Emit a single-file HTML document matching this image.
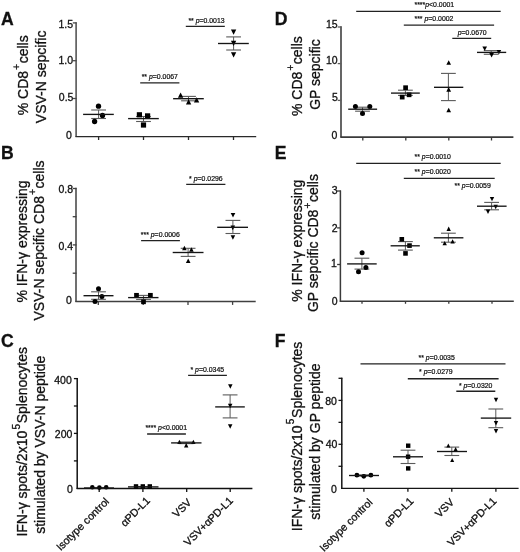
<!DOCTYPE html>
<html><head><meta charset="utf-8"><style>
html,body{margin:0;padding:0;background:#fff;}
body{width:520px;height:552px;overflow:hidden;}
svg{display:block;font-family:"Liberation Sans", sans-serif;will-change:transform;}
text{fill:#111;stroke:#111;stroke-width:0.3px;}
.sm{stroke-width:0.22px;}
</style></head><body>
<svg width="520" height="552" viewBox="0 0 520 552">
<rect width="520" height="552" fill="#fff"/>
<g fill="#000">
<text x="0.90" y="25.00" font-size="17.6" text-anchor="start" font-weight="bold">A</text>
<text transform="translate(27.60,75.3) rotate(-90)" font-size="14" text-anchor="middle">% CD8<tspan font-size="10" dx="1.2" dy="-7.5">+</tspan><tspan dx="0.5" dy="7.5">cells</tspan></text>
<text transform="translate(46.30,76.9) rotate(-90)" font-size="14" text-anchor="middle">VSV-N sepcific</text>
<line x1="76.10" y1="22.20" x2="76.10" y2="137.00" stroke="#4a4a4a" stroke-width="1.5"/>
<line x1="72.80" y1="22.90" x2="76.60" y2="22.90" stroke="#4a4a4a" stroke-width="1.3"/>
<line x1="72.80" y1="60.70" x2="76.60" y2="60.70" stroke="#4a4a4a" stroke-width="1.3"/>
<line x1="72.80" y1="98.50" x2="76.60" y2="98.50" stroke="#4a4a4a" stroke-width="1.3"/>
<text x="73.05" y="27.90" font-size="10.5" text-anchor="end">1.5</text>
<text x="73.05" y="63.75" font-size="10.5" text-anchor="end">1.0</text>
<text x="73.45" y="101.35" font-size="10.5" text-anchor="end">0.5</text>
<text x="71.75" y="138.90" font-size="10.5" text-anchor="end">0</text>
<line x1="75.50" y1="136.60" x2="256.20" y2="136.60" stroke="#2a2a2a" stroke-width="1.4"/>
<line x1="98.60" y1="136.60" x2="98.60" y2="140.00" stroke="#2a2a2a" stroke-width="1.3"/>
<line x1="143.50" y1="136.60" x2="143.50" y2="140.00" stroke="#2a2a2a" stroke-width="1.3"/>
<line x1="188.50" y1="136.60" x2="188.50" y2="140.00" stroke="#2a2a2a" stroke-width="1.3"/>
<line x1="233.50" y1="136.60" x2="233.50" y2="140.00" stroke="#2a2a2a" stroke-width="1.3"/>
<line x1="98.60" y1="110.00" x2="98.60" y2="118.50" stroke="#5a5a5a" stroke-width="1.0"/>
<line x1="91.20" y1="110.00" x2="106.00" y2="110.00" stroke="#5a5a5a" stroke-width="1.1"/>
<line x1="91.20" y1="118.50" x2="106.00" y2="118.50" stroke="#5a5a5a" stroke-width="1.1"/>
<circle cx="98.50" cy="106.20" r="2.65"/>
<circle cx="102.50" cy="115.40" r="2.65"/>
<circle cx="94.60" cy="121.50" r="2.65"/>
<line x1="83.10" y1="114.40" x2="113.80" y2="114.40" stroke="#151515" stroke-width="1.35"/>
<line x1="143.50" y1="116.50" x2="143.50" y2="121.50" stroke="#5a5a5a" stroke-width="1.0"/>
<line x1="136.10" y1="116.50" x2="150.90" y2="116.50" stroke="#5a5a5a" stroke-width="1.1"/>
<line x1="136.10" y1="121.50" x2="150.90" y2="121.50" stroke="#5a5a5a" stroke-width="1.1"/>
<rect x="136.80" y="112.20" width="5.20" height="5.20"/>
<rect x="145.00" y="113.30" width="5.20" height="5.20"/>
<rect x="140.90" y="122.40" width="5.20" height="5.20"/>
<line x1="128.10" y1="118.60" x2="158.80" y2="118.60" stroke="#151515" stroke-width="1.35"/>
<line x1="188.50" y1="96.40" x2="188.50" y2="100.80" stroke="#5a5a5a" stroke-width="1.0"/>
<line x1="181.10" y1="96.40" x2="195.90" y2="96.40" stroke="#5a5a5a" stroke-width="1.1"/>
<line x1="181.10" y1="100.80" x2="195.90" y2="100.80" stroke="#5a5a5a" stroke-width="1.1"/>
<path d="M180.60 92.45L183.25 97.75L177.95 97.75Z"/>
<path d="M188.60 99.15L191.25 104.45L185.95 104.45Z"/>
<path d="M196.60 97.25L199.25 102.55L193.95 102.55Z"/>
<line x1="173.10" y1="98.70" x2="203.80" y2="98.70" stroke="#151515" stroke-width="1.35"/>
<line x1="233.60" y1="36.90" x2="233.60" y2="50.00" stroke="#5a5a5a" stroke-width="1.0"/>
<line x1="226.20" y1="36.90" x2="241.00" y2="36.90" stroke="#5a5a5a" stroke-width="1.1"/>
<line x1="226.20" y1="50.00" x2="241.00" y2="50.00" stroke="#5a5a5a" stroke-width="1.1"/>
<path d="M233.60 34.75L236.25 29.45L230.95 29.45Z"/>
<path d="M233.60 46.05L236.25 40.75L230.95 40.75Z"/>
<path d="M233.60 57.45L236.25 52.15L230.95 52.15Z"/>
<line x1="218.00" y1="43.50" x2="248.80" y2="43.50" stroke="#151515" stroke-width="1.35"/>
<line x1="185.80" y1="26.40" x2="224.80" y2="26.40" stroke="#222" stroke-width="1.35"/>
<text class="sm" x="188.40" y="23.20" font-size="6.9">** <tspan font-style="italic">p</tspan>=0.0013</text>
<line x1="140.20" y1="82.80" x2="179.40" y2="82.80" stroke="#222" stroke-width="1.35"/>
<text class="sm" x="141.70" y="78.70" font-size="6.9">** <tspan font-style="italic">p</tspan>=0.0067</text>
<text x="0.90" y="158.60" font-size="17.6" text-anchor="start" font-weight="bold">B</text>
<text transform="translate(27.30,241.45) rotate(-90)" font-size="14" text-anchor="middle">% IFN-&#947; expressing</text>
<text transform="translate(43.50,240.45) rotate(-90)" font-size="14" text-anchor="middle">VSV-N sepcific CD8<tspan font-size="10" dx="1.2" dy="-7.5">+</tspan><tspan dx="0.5" dy="7.5">cells</tspan></text>
<line x1="76.00" y1="187.80" x2="76.00" y2="302.10" stroke="#404040" stroke-width="1.5"/>
<line x1="72.70" y1="188.50" x2="76.50" y2="188.50" stroke="#404040" stroke-width="1.3"/>
<line x1="72.70" y1="216.70" x2="76.50" y2="216.70" stroke="#404040" stroke-width="1.3"/>
<line x1="72.70" y1="244.90" x2="76.50" y2="244.90" stroke="#404040" stroke-width="1.3"/>
<line x1="72.70" y1="273.20" x2="76.50" y2="273.20" stroke="#404040" stroke-width="1.3"/>
<text x="73.05" y="192.75" font-size="10.5" text-anchor="end">0.8</text>
<text x="73.05" y="249.85" font-size="10.5" text-anchor="end">0.4</text>
<text x="71.75" y="303.85" font-size="10.5" text-anchor="end">0</text>
<line x1="75.40" y1="301.50" x2="255.70" y2="301.50" stroke="#404040" stroke-width="1.4"/>
<line x1="98.30" y1="301.50" x2="98.30" y2="304.90" stroke="#404040" stroke-width="1.3"/>
<line x1="143.20" y1="301.50" x2="143.20" y2="304.90" stroke="#404040" stroke-width="1.3"/>
<line x1="188.00" y1="301.50" x2="188.00" y2="304.90" stroke="#404040" stroke-width="1.3"/>
<line x1="232.60" y1="301.50" x2="232.60" y2="304.90" stroke="#404040" stroke-width="1.3"/>
<line x1="98.50" y1="291.80" x2="98.50" y2="299.30" stroke="#5a5a5a" stroke-width="1.0"/>
<line x1="91.10" y1="291.80" x2="105.90" y2="291.80" stroke="#5a5a5a" stroke-width="1.1"/>
<line x1="91.10" y1="299.30" x2="105.90" y2="299.30" stroke="#5a5a5a" stroke-width="1.1"/>
<circle cx="98.50" cy="288.80" r="2.50"/>
<circle cx="101.90" cy="296.60" r="2.50"/>
<circle cx="95.00" cy="301.40" r="2.50"/>
<line x1="83.50" y1="295.70" x2="113.50" y2="295.70" stroke="#151515" stroke-width="1.35"/>
<line x1="143.50" y1="295.40" x2="143.50" y2="299.40" stroke="#5a5a5a" stroke-width="1.0"/>
<line x1="136.10" y1="295.40" x2="150.90" y2="295.40" stroke="#5a5a5a" stroke-width="1.1"/>
<line x1="136.10" y1="299.40" x2="150.90" y2="299.40" stroke="#5a5a5a" stroke-width="1.1"/>
<rect x="134.15" y="292.95" width="4.70" height="4.70"/>
<rect x="148.05" y="292.95" width="4.70" height="4.70"/>
<rect x="141.15" y="299.45" width="4.70" height="4.70"/>
<line x1="128.10" y1="297.60" x2="158.50" y2="297.60" stroke="#151515" stroke-width="1.35"/>
<line x1="188.10" y1="248.30" x2="188.10" y2="256.40" stroke="#5a5a5a" stroke-width="1.0"/>
<line x1="180.70" y1="248.30" x2="195.50" y2="248.30" stroke="#5a5a5a" stroke-width="1.1"/>
<line x1="180.70" y1="256.40" x2="195.50" y2="256.40" stroke="#5a5a5a" stroke-width="1.1"/>
<path d="M184.40 245.70L186.70 250.30L182.10 250.30Z"/>
<path d="M191.40 247.20L193.70 251.80L189.10 251.80Z"/>
<path d="M188.20 258.50L190.50 263.10L185.90 263.10Z"/>
<line x1="172.70" y1="252.50" x2="203.50" y2="252.50" stroke="#151515" stroke-width="1.35"/>
<line x1="232.90" y1="220.40" x2="232.90" y2="233.50" stroke="#5a5a5a" stroke-width="1.0"/>
<line x1="225.50" y1="220.40" x2="240.30" y2="220.40" stroke="#5a5a5a" stroke-width="1.1"/>
<line x1="225.50" y1="233.50" x2="240.30" y2="233.50" stroke="#5a5a5a" stroke-width="1.1"/>
<path d="M233.00 217.50L235.30 212.90L230.70 212.90Z"/>
<path d="M232.80 230.20L235.10 225.60L230.50 225.60Z"/>
<path d="M232.90 239.80L235.20 235.20L230.60 235.20Z"/>
<line x1="217.20" y1="227.30" x2="248.00" y2="227.30" stroke="#151515" stroke-width="1.35"/>
<line x1="186.20" y1="184.30" x2="225.40" y2="184.30" stroke="#222" stroke-width="1.35"/>
<text class="sm" x="189.10" y="180.70" font-size="6.9">* <tspan font-style="italic">p</tspan>=0.0296</text>
<line x1="141.10" y1="240.60" x2="179.90" y2="240.60" stroke="#222" stroke-width="1.35"/>
<text class="sm" x="140.80" y="237.00" font-size="6.9">*** <tspan font-style="italic">p</tspan>=0.0006</text>
<text x="0.90" y="346.60" font-size="17.6" text-anchor="start" font-weight="bold">C</text>
<text transform="translate(27.20,441.8) rotate(-90)" font-size="14" text-anchor="middle">IFN-&#947; spots/2x10<tspan font-size="10" dx="1.2" dy="-7.6">5</tspan><tspan dx="0.7" dy="7.6">Splenocytes</tspan></text>
<text transform="translate(45.40,444.75) rotate(-90)" font-size="14" text-anchor="middle">stimulated by VSV-N peptide</text>
<line x1="77.20" y1="378.10" x2="77.20" y2="489.10" stroke="#111" stroke-width="1.5"/>
<line x1="73.90" y1="378.60" x2="77.70" y2="378.60" stroke="#111" stroke-width="1.3"/>
<line x1="73.90" y1="406.00" x2="77.70" y2="406.00" stroke="#111" stroke-width="1.3"/>
<line x1="73.90" y1="433.40" x2="77.70" y2="433.40" stroke="#111" stroke-width="1.3"/>
<line x1="73.90" y1="460.90" x2="77.70" y2="460.90" stroke="#111" stroke-width="1.3"/>
<text x="71.75" y="383.65" font-size="10.5" text-anchor="end">400</text>
<text x="72.35" y="438.10" font-size="10.5" text-anchor="end">200</text>
<text x="72.85" y="492.95" font-size="10.5" text-anchor="end">0</text>
<line x1="76.60" y1="488.50" x2="252.40" y2="488.50" stroke="#111" stroke-width="1.4"/>
<line x1="99.20" y1="488.50" x2="99.20" y2="491.90" stroke="#111" stroke-width="1.3"/>
<line x1="142.90" y1="488.50" x2="142.90" y2="491.90" stroke="#111" stroke-width="1.3"/>
<line x1="186.70" y1="488.50" x2="186.70" y2="491.90" stroke="#111" stroke-width="1.3"/>
<line x1="230.20" y1="488.50" x2="230.20" y2="491.90" stroke="#111" stroke-width="1.3"/>
<line x1="99.30" y1="487.50" x2="99.30" y2="488.00" stroke="#5a5a5a" stroke-width="1.0"/>
<line x1="91.90" y1="487.50" x2="106.70" y2="487.50" stroke="#5a5a5a" stroke-width="1.1"/>
<line x1="91.90" y1="488.00" x2="106.70" y2="488.00" stroke="#5a5a5a" stroke-width="1.1"/>
<circle cx="92.30" cy="487.30" r="2.30"/>
<circle cx="99.40" cy="487.60" r="2.30"/>
<circle cx="106.20" cy="487.30" r="2.30"/>
<line x1="84.00" y1="488.00" x2="114.00" y2="488.00" stroke="#151515" stroke-width="1.35"/>
<line x1="142.90" y1="486.50" x2="142.90" y2="487.00" stroke="#5a5a5a" stroke-width="1.0"/>
<line x1="135.50" y1="486.50" x2="150.30" y2="486.50" stroke="#5a5a5a" stroke-width="1.1"/>
<line x1="135.50" y1="487.00" x2="150.30" y2="487.00" stroke="#5a5a5a" stroke-width="1.1"/>
<rect x="133.80" y="484.20" width="4.40" height="4.40"/>
<rect x="140.60" y="484.20" width="4.40" height="4.40"/>
<rect x="147.60" y="484.20" width="4.40" height="4.40"/>
<line x1="128.00" y1="486.90" x2="158.50" y2="486.90" stroke="#151515" stroke-width="1.35"/>
<line x1="186.10" y1="442.00" x2="186.10" y2="443.60" stroke="#5a5a5a" stroke-width="1.0"/>
<line x1="178.70" y1="442.00" x2="193.50" y2="442.00" stroke="#5a5a5a" stroke-width="1.1"/>
<line x1="178.70" y1="443.60" x2="193.50" y2="443.60" stroke="#5a5a5a" stroke-width="1.1"/>
<path d="M179.40 439.70L181.60 444.10L177.20 444.10Z"/>
<path d="M193.40 439.70L195.60 444.10L191.20 444.10Z"/>
<path d="M186.20 443.10L188.40 447.50L184.00 447.50Z"/>
<line x1="171.10" y1="442.90" x2="201.50" y2="442.90" stroke="#151515" stroke-width="1.35"/>
<line x1="230.10" y1="394.90" x2="230.10" y2="417.90" stroke="#5a5a5a" stroke-width="1.0"/>
<line x1="222.70" y1="394.90" x2="237.50" y2="394.90" stroke="#5a5a5a" stroke-width="1.1"/>
<line x1="222.70" y1="417.90" x2="237.50" y2="417.90" stroke="#5a5a5a" stroke-width="1.1"/>
<path d="M230.30 388.75L232.55 384.25L228.05 384.25Z"/>
<path d="M230.20 408.15L232.45 403.65L227.95 403.65Z"/>
<path d="M230.20 428.75L232.45 424.25L227.95 424.25Z"/>
<line x1="215.20" y1="406.90" x2="244.80" y2="406.90" stroke="#151515" stroke-width="1.35"/>
<line x1="188.10" y1="375.40" x2="226.90" y2="375.40" stroke="#222" stroke-width="1.35"/>
<text class="sm" x="190.50" y="372.30" font-size="6.9">* <tspan font-style="italic">p</tspan>=0.0345</text>
<line x1="147.10" y1="434.00" x2="185.90" y2="434.00" stroke="#222" stroke-width="1.35"/>
<text class="sm" x="145.40" y="430.30" font-size="6.9">**** <tspan font-style="italic">p</tspan>&lt;0.0001</text>
<text transform="translate(109.80,502.20) rotate(-45)" font-size="10.7" text-anchor="end">Isotype control</text>
<text transform="translate(150.70,501.40) rotate(-45)" font-size="10.7" text-anchor="end">&#945;PD-L1</text>
<text transform="translate(192.00,503.10) rotate(-45)" font-size="10.7" text-anchor="end">VSV</text>
<text transform="translate(233.70,501.30) rotate(-45)" font-size="10.7" text-anchor="end">VSV+&#945;PD-L1</text>
<text x="274.70" y="25.00" font-size="17.6" text-anchor="start" font-weight="bold">D</text>
<text transform="translate(301.70,76.1) rotate(-90)" font-size="14" text-anchor="middle">% CD8<tspan font-size="10" dx="1.2" dy="-7.5">+</tspan><tspan dx="0.5" dy="7.5">cells</tspan></text>
<text transform="translate(320.10,74.55) rotate(-90)" font-size="14" text-anchor="middle">GP sepcific</text>
<line x1="341.00" y1="26.30" x2="341.00" y2="137.50" stroke="#5e5e5e" stroke-width="1.9"/>
<line x1="337.70" y1="27.00" x2="341.50" y2="27.00" stroke="#5e5e5e" stroke-width="1.3"/>
<line x1="337.70" y1="63.60" x2="341.50" y2="63.60" stroke="#5e5e5e" stroke-width="1.3"/>
<line x1="337.70" y1="100.40" x2="341.50" y2="100.40" stroke="#5e5e5e" stroke-width="1.3"/>
<text x="337.65" y="27.95" font-size="10.5" text-anchor="end">15</text>
<text x="337.65" y="63.65" font-size="10.5" text-anchor="end">10</text>
<text x="337.95" y="101.15" font-size="10.5" text-anchor="end">5</text>
<text x="337.45" y="138.85" font-size="10.5" text-anchor="end">0</text>
<line x1="340.40" y1="137.10" x2="513.40" y2="137.10" stroke="#3a3a3a" stroke-width="1.6"/>
<line x1="362.80" y1="137.10" x2="362.80" y2="140.50" stroke="#3a3a3a" stroke-width="1.3"/>
<line x1="405.80" y1="137.10" x2="405.80" y2="140.50" stroke="#3a3a3a" stroke-width="1.3"/>
<line x1="448.80" y1="137.10" x2="448.80" y2="140.50" stroke="#3a3a3a" stroke-width="1.3"/>
<line x1="491.50" y1="137.10" x2="491.50" y2="140.50" stroke="#3a3a3a" stroke-width="1.3"/>
<line x1="362.50" y1="107.20" x2="362.50" y2="111.20" stroke="#5a5a5a" stroke-width="1.0"/>
<line x1="355.10" y1="107.20" x2="369.90" y2="107.20" stroke="#5a5a5a" stroke-width="1.1"/>
<line x1="355.10" y1="111.20" x2="369.90" y2="111.20" stroke="#5a5a5a" stroke-width="1.1"/>
<circle cx="355.40" cy="106.60" r="2.50"/>
<circle cx="369.80" cy="106.60" r="2.50"/>
<circle cx="362.50" cy="113.40" r="2.50"/>
<line x1="348.20" y1="109.20" x2="377.10" y2="109.20" stroke="#151515" stroke-width="1.35"/>
<line x1="405.40" y1="90.20" x2="405.40" y2="95.40" stroke="#5a5a5a" stroke-width="1.0"/>
<line x1="398.00" y1="90.20" x2="412.80" y2="90.20" stroke="#5a5a5a" stroke-width="1.1"/>
<line x1="398.00" y1="95.40" x2="412.80" y2="95.40" stroke="#5a5a5a" stroke-width="1.1"/>
<rect x="403.25" y="85.35" width="4.70" height="4.70"/>
<rect x="399.85" y="94.75" width="4.70" height="4.70"/>
<rect x="406.75" y="92.45" width="4.70" height="4.70"/>
<line x1="391.00" y1="93.10" x2="419.80" y2="93.10" stroke="#151515" stroke-width="1.35"/>
<line x1="448.40" y1="73.40" x2="448.40" y2="100.60" stroke="#5a5a5a" stroke-width="1.0"/>
<line x1="441.00" y1="73.40" x2="455.80" y2="73.40" stroke="#5a5a5a" stroke-width="1.1"/>
<line x1="441.00" y1="100.60" x2="455.80" y2="100.60" stroke="#5a5a5a" stroke-width="1.1"/>
<path d="M448.70 60.15L451.05 64.85L446.35 64.85Z"/>
<path d="M448.70 86.95L451.05 91.65L446.35 91.65Z"/>
<path d="M448.70 107.65L451.05 112.35L446.35 112.35Z"/>
<line x1="434.00" y1="87.30" x2="463.30" y2="87.30" stroke="#151515" stroke-width="1.35"/>
<line x1="491.20" y1="50.60" x2="491.20" y2="54.30" stroke="#5a5a5a" stroke-width="1.0"/>
<line x1="483.80" y1="50.60" x2="498.60" y2="50.60" stroke="#5a5a5a" stroke-width="1.1"/>
<line x1="483.80" y1="54.30" x2="498.60" y2="54.30" stroke="#5a5a5a" stroke-width="1.1"/>
<path d="M484.70 51.00L487.00 46.40L482.40 46.40Z"/>
<path d="M491.60 57.50L493.90 52.90L489.30 52.90Z"/>
<path d="M498.90 54.60L501.20 50.00L496.60 50.00Z"/>
<line x1="477.00" y1="52.40" x2="506.20" y2="52.40" stroke="#151515" stroke-width="1.35"/>
<line x1="356.20" y1="11.30" x2="500.70" y2="11.30" stroke="#222" stroke-width="1.35"/>
<text class="sm" x="414.50" y="6.80" font-size="6.9">****<tspan font-style="italic">p</tspan>&lt;0.0001</text>
<line x1="403.80" y1="25.10" x2="494.10" y2="25.10" stroke="#222" stroke-width="1.35"/>
<text class="sm" x="414.50" y="21.20" font-size="6.9">*** <tspan font-style="italic">p</tspan>=0.0002</text>
<line x1="452.30" y1="38.40" x2="491.20" y2="38.40" stroke="#222" stroke-width="1.35"/>
<text class="sm" x="457.70" y="35.00" font-size="6.9"><tspan font-style="italic">p</tspan>=0.0670</text>
<text x="274.70" y="159.20" font-size="17.6" text-anchor="start" font-weight="bold">E</text>
<text transform="translate(302.30,240.75) rotate(-90)" font-size="14" text-anchor="middle">% IFN-&#947; expressing</text>
<text transform="translate(318.10,243.05) rotate(-90)" font-size="14" text-anchor="middle">GP sepcific CD8<tspan font-size="10" dx="1.2" dy="-7.5">+</tspan><tspan dx="0.5" dy="7.5">cells</tspan></text>
<line x1="340.40" y1="190.50" x2="340.40" y2="301.80" stroke="#3a3a3a" stroke-width="1.5"/>
<line x1="337.10" y1="191.00" x2="340.90" y2="191.00" stroke="#3a3a3a" stroke-width="1.3"/>
<line x1="337.10" y1="227.90" x2="340.90" y2="227.90" stroke="#3a3a3a" stroke-width="1.3"/>
<line x1="337.10" y1="264.50" x2="340.90" y2="264.50" stroke="#3a3a3a" stroke-width="1.3"/>
<text x="337.65" y="194.40" font-size="10.5" text-anchor="end">3</text>
<text x="337.65" y="231.50" font-size="10.5" text-anchor="end">2</text>
<text x="336.85" y="267.40" font-size="10.5" text-anchor="end">1</text>
<text x="337.55" y="305.20" font-size="10.5" text-anchor="end">0</text>
<line x1="339.80" y1="301.20" x2="513.80" y2="301.20" stroke="#3a3a3a" stroke-width="1.4"/>
<line x1="362.00" y1="301.20" x2="362.00" y2="303.80" stroke="#3a3a3a" stroke-width="1.3"/>
<line x1="405.50" y1="301.20" x2="405.50" y2="303.80" stroke="#3a3a3a" stroke-width="1.3"/>
<line x1="448.80" y1="301.20" x2="448.80" y2="303.80" stroke="#3a3a3a" stroke-width="1.3"/>
<line x1="492.00" y1="301.20" x2="492.00" y2="303.80" stroke="#3a3a3a" stroke-width="1.3"/>
<line x1="361.90" y1="258.20" x2="361.90" y2="269.10" stroke="#5a5a5a" stroke-width="1.0"/>
<line x1="354.50" y1="258.20" x2="369.30" y2="258.20" stroke="#5a5a5a" stroke-width="1.1"/>
<line x1="354.50" y1="269.10" x2="369.30" y2="269.10" stroke="#5a5a5a" stroke-width="1.1"/>
<circle cx="362.10" cy="252.80" r="2.50"/>
<circle cx="365.90" cy="267.40" r="2.50"/>
<circle cx="358.50" cy="271.80" r="2.50"/>
<line x1="347.10" y1="263.90" x2="376.70" y2="263.90" stroke="#151515" stroke-width="1.35"/>
<line x1="405.40" y1="241.60" x2="405.40" y2="250.10" stroke="#5a5a5a" stroke-width="1.0"/>
<line x1="398.00" y1="241.60" x2="412.80" y2="241.60" stroke="#5a5a5a" stroke-width="1.1"/>
<line x1="398.00" y1="250.10" x2="412.80" y2="250.10" stroke="#5a5a5a" stroke-width="1.1"/>
<rect x="399.50" y="237.00" width="4.60" height="4.60"/>
<rect x="407.20" y="243.30" width="4.60" height="4.60"/>
<rect x="403.20" y="251.10" width="4.60" height="4.60"/>
<line x1="390.60" y1="245.80" x2="419.80" y2="245.80" stroke="#151515" stroke-width="1.35"/>
<line x1="448.40" y1="233.20" x2="448.40" y2="242.20" stroke="#5a5a5a" stroke-width="1.0"/>
<line x1="441.00" y1="233.20" x2="455.80" y2="233.20" stroke="#5a5a5a" stroke-width="1.1"/>
<line x1="441.00" y1="242.20" x2="455.80" y2="242.20" stroke="#5a5a5a" stroke-width="1.1"/>
<path d="M448.70 226.50L450.90 230.90L446.50 230.90Z"/>
<path d="M452.60 239.20L454.80 243.60L450.40 243.60Z"/>
<path d="M444.70 240.90L446.90 245.30L442.50 245.30Z"/>
<line x1="433.80" y1="237.80" x2="463.40" y2="237.80" stroke="#151515" stroke-width="1.35"/>
<line x1="491.60" y1="202.40" x2="491.60" y2="209.80" stroke="#5a5a5a" stroke-width="1.0"/>
<line x1="484.20" y1="202.40" x2="499.00" y2="202.40" stroke="#5a5a5a" stroke-width="1.1"/>
<line x1="484.20" y1="209.80" x2="499.00" y2="209.80" stroke="#5a5a5a" stroke-width="1.1"/>
<path d="M492.00 201.30L494.20 196.90L489.80 196.90Z"/>
<path d="M495.70 209.20L497.90 204.80L493.50 204.80Z"/>
<path d="M488.00 213.90L490.20 209.50L485.80 209.50Z"/>
<line x1="477.00" y1="206.20" x2="506.60" y2="206.20" stroke="#151515" stroke-width="1.35"/>
<line x1="356.20" y1="163.40" x2="500.70" y2="163.40" stroke="#222" stroke-width="1.35"/>
<text class="sm" x="414.50" y="159.40" font-size="6.9">** <tspan font-style="italic">p</tspan>=0.0010</text>
<line x1="403.80" y1="178.30" x2="494.70" y2="178.30" stroke="#222" stroke-width="1.35"/>
<text class="sm" x="414.50" y="173.60" font-size="6.9">** <tspan font-style="italic">p</tspan>=0.0020</text>
<text class="sm" x="454.50" y="188.40" font-size="6.9">** <tspan font-style="italic">p</tspan>=0.0059</text>
<text x="274.70" y="346.60" font-size="17.6" text-anchor="start" font-weight="bold">F</text>
<text transform="translate(301.80,436.4) rotate(-90)" font-size="14" text-anchor="middle">IFN-&#947; spots/2x10<tspan font-size="10" dx="1.2" dy="-7.6">5</tspan><tspan dx="0.7" dy="7.6">Splenocytes</tspan></text>
<text transform="translate(319.50,441.55) rotate(-90)" font-size="14" text-anchor="middle">stimulated by GP peptide</text>
<line x1="341.80" y1="377.80" x2="341.80" y2="489.00" stroke="#151515" stroke-width="1.5"/>
<line x1="338.50" y1="378.30" x2="342.30" y2="378.30" stroke="#151515" stroke-width="1.3"/>
<line x1="338.50" y1="400.40" x2="342.30" y2="400.40" stroke="#151515" stroke-width="1.3"/>
<line x1="338.50" y1="422.35" x2="342.30" y2="422.35" stroke="#151515" stroke-width="1.3"/>
<line x1="338.50" y1="444.30" x2="342.30" y2="444.30" stroke="#151515" stroke-width="1.3"/>
<line x1="338.50" y1="466.30" x2="342.30" y2="466.30" stroke="#151515" stroke-width="1.3"/>
<text x="336.85" y="404.75" font-size="10.5" text-anchor="end">80</text>
<text x="337.45" y="448.40" font-size="10.5" text-anchor="end">40</text>
<text x="336.85" y="492.95" font-size="10.5" text-anchor="end">0</text>
<line x1="341.20" y1="488.40" x2="518.60" y2="488.40" stroke="#151515" stroke-width="1.4"/>
<line x1="363.90" y1="488.40" x2="363.90" y2="491.80" stroke="#151515" stroke-width="1.3"/>
<line x1="407.90" y1="488.40" x2="407.90" y2="491.80" stroke="#151515" stroke-width="1.3"/>
<line x1="451.80" y1="488.40" x2="451.80" y2="491.80" stroke="#151515" stroke-width="1.3"/>
<line x1="495.90" y1="488.40" x2="495.90" y2="491.80" stroke="#151515" stroke-width="1.3"/>
<line x1="363.90" y1="475.00" x2="363.90" y2="476.00" stroke="#5a5a5a" stroke-width="1.0"/>
<line x1="356.50" y1="475.00" x2="371.30" y2="475.00" stroke="#5a5a5a" stroke-width="1.1"/>
<line x1="356.50" y1="476.00" x2="371.30" y2="476.00" stroke="#5a5a5a" stroke-width="1.1"/>
<circle cx="356.90" cy="475.20" r="2.40"/>
<circle cx="363.80" cy="476.30" r="2.40"/>
<circle cx="370.90" cy="475.20" r="2.40"/>
<line x1="349.00" y1="475.50" x2="379.00" y2="475.50" stroke="#151515" stroke-width="1.35"/>
<line x1="408.00" y1="450.20" x2="408.00" y2="463.50" stroke="#5a5a5a" stroke-width="1.0"/>
<line x1="400.60" y1="450.20" x2="415.40" y2="450.20" stroke="#5a5a5a" stroke-width="1.1"/>
<line x1="400.60" y1="463.50" x2="415.40" y2="463.50" stroke="#5a5a5a" stroke-width="1.1"/>
<rect x="406.00" y="443.50" width="4.40" height="4.40"/>
<rect x="405.90" y="454.50" width="4.40" height="4.40"/>
<rect x="406.00" y="466.20" width="4.40" height="4.40"/>
<line x1="393.00" y1="456.80" x2="423.00" y2="456.80" stroke="#151515" stroke-width="1.35"/>
<line x1="451.80" y1="447.10" x2="451.80" y2="455.50" stroke="#5a5a5a" stroke-width="1.0"/>
<line x1="444.40" y1="447.10" x2="459.20" y2="447.10" stroke="#5a5a5a" stroke-width="1.1"/>
<line x1="444.40" y1="455.50" x2="459.20" y2="455.50" stroke="#5a5a5a" stroke-width="1.1"/>
<path d="M448.30 443.50L450.30 447.50L446.30 447.50Z"/>
<path d="M455.60 446.90L457.60 450.90L453.60 450.90Z"/>
<path d="M452.20 457.90L454.20 461.90L450.20 461.90Z"/>
<line x1="437.00" y1="451.50" x2="467.00" y2="451.50" stroke="#151515" stroke-width="1.35"/>
<line x1="495.80" y1="409.00" x2="495.80" y2="427.70" stroke="#5a5a5a" stroke-width="1.0"/>
<line x1="488.40" y1="409.00" x2="503.20" y2="409.00" stroke="#5a5a5a" stroke-width="1.1"/>
<line x1="488.40" y1="427.70" x2="503.20" y2="427.70" stroke="#5a5a5a" stroke-width="1.1"/>
<path d="M496.00 402.20L498.20 397.80L493.80 397.80Z"/>
<path d="M496.00 425.50L498.20 421.10L493.80 421.10Z"/>
<path d="M496.00 433.40L498.20 429.00L493.80 429.00Z"/>
<line x1="480.80" y1="418.10" x2="511.20" y2="418.10" stroke="#151515" stroke-width="1.35"/>
<line x1="360.50" y1="363.80" x2="505.50" y2="363.80" stroke="#222" stroke-width="1.35"/>
<text class="sm" x="418.50" y="359.60" font-size="6.9">** <tspan font-style="italic">p</tspan>=0.0035</text>
<line x1="407.80" y1="378.70" x2="498.60" y2="378.70" stroke="#222" stroke-width="1.35"/>
<text class="sm" x="419.10" y="374.10" font-size="6.9">* <tspan font-style="italic">p</tspan>=0.0279</text>
<line x1="456.30" y1="391.20" x2="495.30" y2="391.20" stroke="#222" stroke-width="1.35"/>
<text class="sm" x="458.90" y="388.10" font-size="6.9">* <tspan font-style="italic">p</tspan>=0.0320</text>
<text transform="translate(373.10,503.00) rotate(-45)" font-size="10.7" text-anchor="end">Isotype control</text>
<text transform="translate(414.20,501.90) rotate(-45)" font-size="10.7" text-anchor="end">&#945;PD-L1</text>
<text transform="translate(454.70,503.00) rotate(-45)" font-size="10.7" text-anchor="end">VSV</text>
<text transform="translate(497.10,501.70) rotate(-45)" font-size="10.7" text-anchor="end">VSV+&#945;PD-L1</text>
</g>
</svg>
</body></html>
